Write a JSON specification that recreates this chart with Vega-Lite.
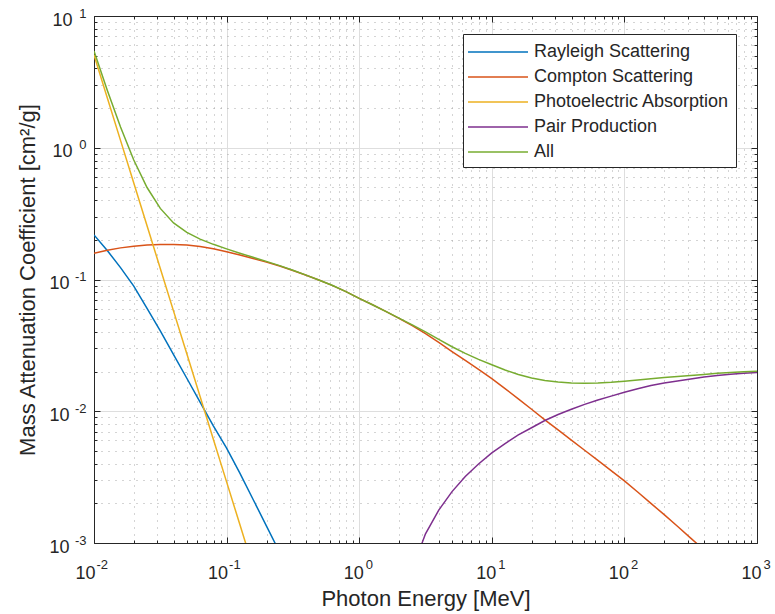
{
  "$schema": "https://vega.github.io/schema/vega-lite/v6.json",
  "width": 663,
  "height": 527,
  "autosize": {"type": "none"},
  "padding": {"left": 94, "top": 16, "right": 18, "bottom": 71},
  "background": "white",
  "config": {
    "font": "Liberation Sans",
    "view": {"stroke": "#262626", "strokeWidth": 1},
    "axis": {"domainColor": "#262626", "tickColor": "#262626", "labelColor": "#262626", "titleColor": "#262626", "titleFontWeight": "normal", "labelFontSize": 18, "titleFontSize": 22, "labelOverlap": false, "labelFlush": false}
  },
  "data": {"values": [
    {"E": 0.01, "rayleigh": 0.2178, "compton": 0.1581, "photo": 5.058, "all": 5.434},
    {"E": 0.01259, "rayleigh": 0.1660, "compton": 0.1667, "photo": 2.399, "all": 2.732},
    {"E": 0.01585, "rayleigh": 0.1230, "compton": 0.1738, "photo": 1.138, "all": 1.435},
    {"E": 0.01995, "rayleigh": 0.0891, "compton": 0.1791, "photo": 0.5395, "all": 0.8077},
    {"E": 0.02512, "rayleigh": 0.0603, "compton": 0.1828, "photo": 0.2559, "all": 0.4990},
    {"E": 0.03162, "rayleigh": 0.0407, "compton": 0.1845, "photo": 0.1213, "all": 0.3465},
    {"E": 0.03981, "rayleigh": 0.0269, "compton": 0.1845, "photo": 0.05754, "all": 0.2689},
    {"E": 0.05012, "rayleigh": 0.0178, "compton": 0.1824, "photo": 0.02729, "all": 0.2275},
    {"E": 0.06310, "rayleigh": 0.01175, "compton": 0.1778, "photo": 0.01294, "all": 0.2025},
    {"E": 0.07943, "rayleigh": 0.00776, "compton": 0.1710, "photo": 0.006138, "all": 0.1849},
    {"E": 0.1, "rayleigh": 0.00525, "compton": 0.1626, "photo": 0.002911, "all": 0.1708},
    {"E": 0.1259, "rayleigh": 0.00339, "compton": 0.1535, "photo": 0.00138, "all": 0.1583},
    {"E": 0.1585, "rayleigh": 0.00214, "compton": 0.1445, "photo": 0.000655, "all": 0.1473},
    {"E": 0.1995, "rayleigh": 0.00135, "compton": 0.1355, "all": 0.1372},
    {"E": 0.2512, "rayleigh": 0.00085, "compton": 0.1265, "all": 0.1275},
    {"E": 0.3162, "compton": 0.1169, "all": 0.1174},
    {"E": 0.3981, "compton": 0.1076, "all": 0.1079},
    {"E": 0.5012, "compton": 0.0986, "all": 0.0988},
    {"E": 0.6310, "compton": 0.0899, "all": 0.0900},
    {"E": 0.7943, "compton": 0.0809, "all": 0.0810},
    {"E": 1, "compton": 0.0719, "all": 0.0719},
    {"E": 1.259, "compton": 0.0643, "all": 0.0643},
    {"E": 1.585, "compton": 0.0573, "all": 0.0573},
    {"E": 1.995, "compton": 0.0507, "all": 0.05095},
    {"E": 2.512, "compton": 0.0446, "pair": 0.00063, "all": 0.04523},
    {"E": 3.162, "compton": 0.0388, "pair": 0.001175, "all": 0.03998},
    {"E": 3.981, "compton": 0.0333, "pair": 0.001778, "all": 0.03508},
    {"E": 5.012, "compton": 0.0284, "pair": 0.002455, "all": 0.03086},
    {"E": 6.310, "compton": 0.0243, "pair": 0.003199, "all": 0.02750},
    {"E": 7.943, "compton": 0.0208, "pair": 0.003981, "all": 0.02478},
    {"E": 10, "compton": 0.0177, "pair": 0.004831, "all": 0.02253},
    {"E": 12.59, "compton": 0.01486, "pair": 0.005689, "all": 0.02055},
    {"E": 15.85, "compton": 0.01242, "pair": 0.006607, "all": 0.01903},
    {"E": 19.95, "compton": 0.01035, "pair": 0.007499, "all": 0.01785},
    {"E": 25.12, "compton": 0.00861, "pair": 0.008511, "all": 0.01712},
    {"E": 31.62, "compton": 0.00721, "pair": 0.009441, "all": 0.01665},
    {"E": 39.81, "compton": 0.00604, "pair": 0.01035, "all": 0.01639},
    {"E": 50.12, "compton": 0.00506, "pair": 0.01127, "all": 0.01633},
    {"E": 63.10, "compton": 0.00424, "pair": 0.01216, "all": 0.01640},
    {"E": 79.43, "compton": 0.00354, "pair": 0.01303, "all": 0.01657},
    {"E": 100, "compton": 0.00296, "pair": 0.01396, "all": 0.01692},
    {"E": 125.9, "compton": 0.00244, "pair": 0.01483, "all": 0.01727},
    {"E": 158.5, "compton": 0.00200, "pair": 0.01567, "all": 0.01767},
    {"E": 199.5, "compton": 0.00164, "pair": 0.01637, "all": 0.01801},
    {"E": 251.2, "compton": 0.00134, "pair": 0.01698, "all": 0.01832},
    {"E": 316.2, "compton": 0.00109, "pair": 0.01758, "all": 0.01867},
    {"E": 398.1, "compton": 0.000887, "pair": 0.01816, "all": 0.01904},
    {"E": 501.2, "pair": 0.01866, "all": 0.01939},
    {"E": 631.0, "pair": 0.01910, "all": 0.01969},
    {"E": 794.3, "pair": 0.01945, "all": 0.01993},
    {"E": 1000, "pair": 0.01972, "all": 0.02011}
  ]},
  "transform": [
    {"fold": ["rayleigh", "compton", "photo", "pair", "all"], "as": ["series", "mu"]},
    {"filter": "isValid(datum.mu)"}
  ],
  "encoding": {
    "color": {
      "field": "series", "type": "nominal",
      "scale": {"domain": ["rayleigh", "compton", "photo", "pair", "all"], "range": ["#0072BD", "#D95319", "#EDB120", "#7E2F8E", "#77AC30"]},
      "legend": {
        "title": null, "orient": "none", "legendX": 369, "legendY": 18,
        "strokeColor": "#262626", "fillColor": "white", "padding": 6,
        "symbolType": "M-2.727,0H2.727", "symbolSize": 484, "symbolOffset": 17, "symbolStrokeWidth": 1.5,
        "labelOffset": 24, "labelFontSize": 18, "labelColor": "#262626", "rowPadding": 4, "labelLimit": 400,
        "labelExpr": "datum.label == 'rayleigh' ? 'Rayleigh Scattering' : datum.label == 'compton' ? 'Compton Scattering' : datum.label == 'photo' ? 'Photoelectric Absorption' : datum.label == 'pair' ? 'Pair Production' : 'All'"
      }
    }
  },
  "layer": [
    {
      "transform": [{"filter": "datum.series != 'all'"}],
      "mark": {"type": "line", "clip": true, "strokeWidth": 1.5},
      "encoding": {
        "x": {
          "field": "E", "type": "quantitative", "title": "Photon Energy [MeV]",
          "scale": {"type": "log", "domain": [0.01, 1000], "nice": false},
          "axis": {
            "orient": "bottom",
            "values": [0.01,0.02,0.03,0.04,0.05,0.06,0.07,0.08,0.09,0.1,0.2,0.3,0.4,0.5,0.6,0.7,0.8,0.9,1,2,3,4,5,6,7,8,9,10,20,30,40,50,60,70,80,90,100,200,300,400,500,600,700,800,900,1000],
            "labelExpr": "abs(log(datum.value)/LN10 - round(log(datum.value)/LN10)) < 0.001 ? '10' : ''",
            "labelAlign": "right",
            "labelOffset": {"condition": {"test": "datum.value < 0.9", "value": 1}, "value": 4},
            "grid": true,
            "gridColor": {"condition": {"test": "abs(log(datum.value)/LN10 - round(log(datum.value)/LN10)) < 0.001", "value": "#dedede"}, "value": "#a8a8a8"},
            "gridDash": {"condition": {"test": "abs(log(datum.value)/LN10 - round(log(datum.value)/LN10)) < 0.001", "value": []}, "value": [1, 6]},
            "tickSize": {"condition": {"test": "abs(log(datum.value)/LN10 - round(log(datum.value)/LN10)) < 0.001", "value": -6}, "value": -3},
            "labelPadding": 27, "titlePadding": 3
          }
        },
        "y": {
          "field": "mu", "type": "quantitative", "title": "Mass Attenuation Coefficient [cm²/g]",
          "scale": {"type": "log", "domain": [0.001, 10], "nice": false},
          "axis": {
            "orient": "left",
            "values": [0.001,0.002,0.003,0.004,0.005,0.006,0.007,0.008,0.009,0.01,0.02,0.03,0.04,0.05,0.06,0.07,0.08,0.09,0.1,0.2,0.3,0.4,0.5,0.6,0.7,0.8,0.9,1,2,3,4,5,6,7,8,9,10],
            "labelExpr": "abs(log(datum.value)/LN10 - round(log(datum.value)/LN10)) < 0.001 ? '10' : ''",
            "labelOffset": 4,
            "labelPadding": {"condition": {"test": "datum.value < 0.9", "value": 31}, "value": 28},
            "grid": true,
            "gridColor": {"condition": {"test": "abs(log(datum.value)/LN10 - round(log(datum.value)/LN10)) < 0.001", "value": "#dedede"}, "value": "#a8a8a8"},
            "gridDash": {"condition": {"test": "abs(log(datum.value)/LN10 - round(log(datum.value)/LN10)) < 0.001", "value": []}, "value": [1, 6]},
            "tickSize": {"condition": {"test": "abs(log(datum.value)/LN10 - round(log(datum.value)/LN10)) < 0.001", "value": -6}, "value": -3},
            "titlePadding": 9
          }
        }
      }
    },
    {
      "transform": [{"filter": "datum.series == 'all'"}],
      "mark": {"type": "line", "clip": true, "strokeWidth": 1.5},
      "encoding": {
        "x": {
          "field": "E", "type": "quantitative", "scale": {"type": "log", "domain": [0.01, 1000], "nice": false},
          "axis": {
            "orient": "bottom", "title": null, "grid": false, "ticks": false, "tickSize": 0, "domain": false,
            "values": [0.01, 0.1, 1, 10, 100, 1000],
            "labelExpr": "'' + round(log(datum.value)/LN10)",
            "labelFontSize": 13, "labelAlign": "left", "labelBaseline": "top",
            "labelOffset": {"condition": {"test": "datum.value < 0.9", "value": 2}, "value": 6},
            "labelPadding": 15
          }
        },
        "y": {
          "field": "mu", "type": "quantitative", "scale": {"type": "log", "domain": [0.001, 10], "nice": false},
          "axis": {
            "orient": "left", "title": null, "grid": false, "ticks": false, "tickSize": 0, "domain": false,
            "values": [0.001, 0.01, 0.1, 1, 10],
            "labelExpr": "'' + round(log(datum.value)/LN10)",
            "labelFontSize": 13, "labelAlign": "right",
            "labelOffset": -3, "labelPadding": 8
          }
        }
      }
    },
    {
      "mark": {"type": "line", "clip": true, "opacity": 0},
      "encoding": {
        "x": {
          "field": "E", "type": "quantitative", "scale": {"type": "log", "domain": [0.01, 1000], "nice": false},
          "axis": {
            "orient": "top", "title": null, "labels": false, "grid": false,
            "values": [0.01,0.02,0.03,0.04,0.05,0.06,0.07,0.08,0.09,0.1,0.2,0.3,0.4,0.5,0.6,0.7,0.8,0.9,1,2,3,4,5,6,7,8,9,10,20,30,40,50,60,70,80,90,100,200,300,400,500,600,700,800,900,1000],
            "tickSize": {"condition": {"test": "abs(log(datum.value)/LN10 - round(log(datum.value)/LN10)) < 0.001", "value": -6}, "value": -3}
          }
        },
        "y": {
          "field": "mu", "type": "quantitative", "scale": {"type": "log", "domain": [0.001, 10], "nice": false},
          "axis": {
            "orient": "right", "title": null, "labels": false, "grid": false,
            "values": [0.001,0.002,0.003,0.004,0.005,0.006,0.007,0.008,0.009,0.01,0.02,0.03,0.04,0.05,0.06,0.07,0.08,0.09,0.1,0.2,0.3,0.4,0.5,0.6,0.7,0.8,0.9,1,2,3,4,5,6,7,8,9,10],
            "tickSize": {"condition": {"test": "abs(log(datum.value)/LN10 - round(log(datum.value)/LN10)) < 0.001", "value": -6}, "value": -3}
          }
        }
      }
    }
  ],
  "resolve": {"axis": {"x": "independent", "y": "independent"}}
}
